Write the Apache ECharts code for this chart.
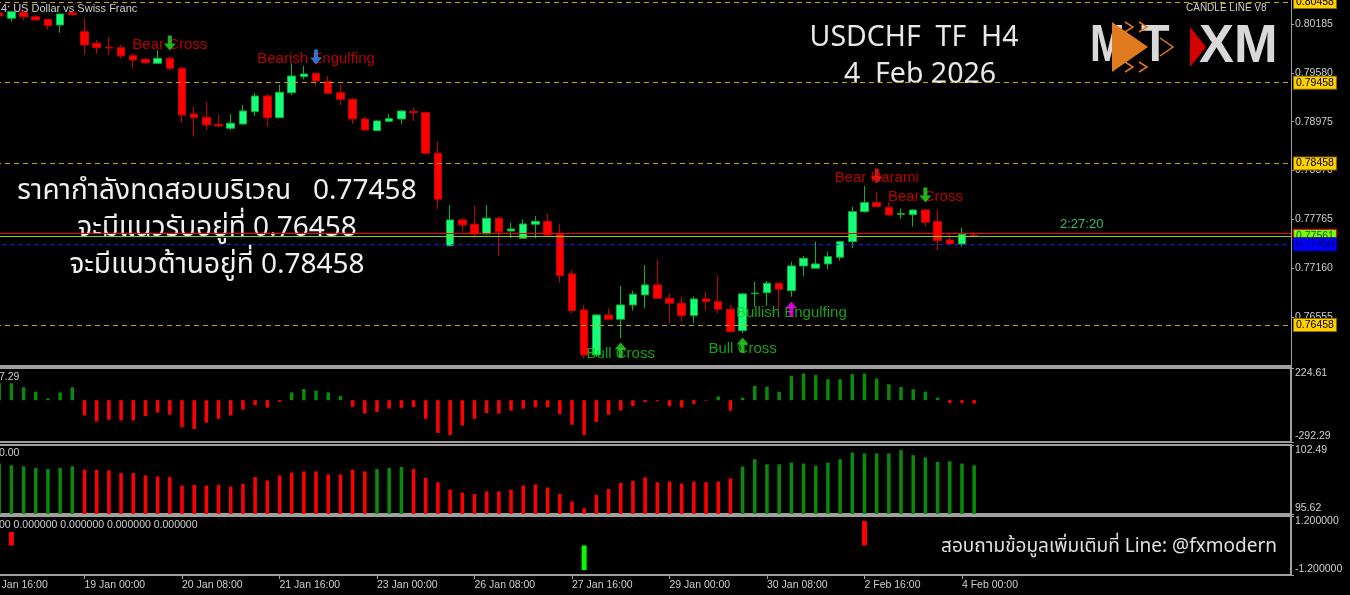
<!DOCTYPE html>
<html>
<head>
<meta charset="utf-8">
<title>USDCHF H4</title>
<script src="https://cdn.jsdelivr.net/npm/echarts@6/dist/echarts.min.js"></script>
<style>
  html, body { margin: 0; padding: 0; background: #000; }
  #box { width: 1350px; height: 595px; }
</style>
</head>
<body>
<div id="box"></div>
<script>
// H4 bars, first slot = Thu 15 Jan 2026 16:00, weekends skipped
const firstBarTime = Date.UTC(2026, 0, 15, 16);
const barCount = 108;
const tickLabels = ['15 Jan 16:00', '19 Jan 00:00', '20 Jan 08:00', '21 Jan 16:00', '23 Jan 00:00',
  '26 Jan 08:00', '27 Jan 16:00', '29 Jan 00:00', '30 Jan 08:00', '2 Feb 16:00', '4 Feb 00:00'];
const priceTicks = [0.80185, 0.79580, 0.78975, 0.78370, 0.77765, 0.77160, 0.76555];

// candles, bar 1 .. bar 81
const opens = [0.80321, 0.80256, 0.80330, 0.80275, 0.80243, 0.80173, 0.80325, 0.80090, 0.79946, 0.79897,
  0.79892, 0.79793, 0.79748, 0.79698, 0.79760, 0.79637, 0.79071, 0.79030, 0.78943, 0.78894,
  0.78947, 0.79099, 0.79294, 0.79025, 0.79334, 0.79533, 0.79575, 0.79471, 0.79334, 0.79253,
  0.79009, 0.78864, 0.78980, 0.79009, 0.79102, 0.79087, 0.78584, 0.77440, 0.77759, 0.77705,
  0.77585, 0.77780, 0.77622, 0.77532, 0.77705, 0.77742, 0.77585, 0.77090, 0.76644, 0.76087,
  0.76582, 0.76529, 0.76706, 0.76830, 0.76954, 0.76789, 0.76727, 0.76574, 0.76780, 0.76747,
  0.76653, 0.76388, 0.76845, 0.76858, 0.76975, 0.76883, 0.77189, 0.77161, 0.77214, 0.77297,
  0.77490, 0.77861, 0.77973, 0.77916, 0.77829, 0.77824, 0.77882, 0.77738, 0.77511, 0.77461,
  0.77568];
const closes = [0.80284, 0.80337, 0.80275, 0.80235, 0.80164, 0.80309, 0.80300, 0.79925, 0.79892, 0.79888,
  0.79789, 0.79739, 0.79706, 0.79760, 0.79637, 0.79058, 0.79025, 0.78935, 0.78922, 0.78956,
  0.79108, 0.79294, 0.79025, 0.79339, 0.79541, 0.79566, 0.79479, 0.79327, 0.79253, 0.79009,
  0.78873, 0.78984, 0.79013, 0.79108, 0.79089, 0.78584, 0.78015, 0.77759, 0.77697, 0.77585,
  0.77780, 0.77614, 0.77647, 0.77709, 0.77742, 0.77573, 0.77069, 0.76636, 0.76087, 0.76582,
  0.76529, 0.76706, 0.76839, 0.76954, 0.76789, 0.76727, 0.76574, 0.76780, 0.76747, 0.76653,
  0.76376, 0.76843, 0.76852, 0.76975, 0.76901, 0.77189, 0.77284, 0.77214, 0.77304, 0.77490,
  0.77861, 0.77973, 0.77923, 0.77820, 0.77837, 0.77882, 0.77730, 0.77502, 0.77461, 0.77582,
  0.77561];
const lows = [0.80272, 0.80213, 0.80235, 0.80222, 0.80119, 0.80077, 0.80288, 0.79801, 0.79814, 0.79801,
  0.79760, 0.79637, 0.79696, 0.79698, 0.79607, 0.78963, 0.78790, 0.78873, 0.78916, 0.78873,
  0.78935, 0.79046, 0.78914, 0.79018, 0.79306, 0.79500, 0.79417, 0.79318, 0.79182, 0.78947,
  0.78860, 0.78860, 0.78978, 0.78947, 0.78984, 0.78563, 0.77891, 0.77428, 0.77614, 0.77532,
  0.77579, 0.77313, 0.77532, 0.77530, 0.77532, 0.77567, 0.76982, 0.76603, 0.76046, 0.76063,
  0.76527, 0.76294, 0.76636, 0.76665, 0.76787, 0.76480, 0.76500, 0.76480, 0.76636, 0.76600,
  0.76372, 0.76356, 0.76685, 0.76694, 0.76644, 0.76809, 0.77065, 0.77158, 0.77148, 0.77255,
  0.77408, 0.77849, 0.77919, 0.77816, 0.77767, 0.77676, 0.77676, 0.77387, 0.77459, 0.77428,
  0.77540];
const highs = [0.80334, 0.80346, 0.80358, 0.80296, 0.80243, 0.80317, 0.80337, 0.80256, 0.79987, 0.80020,
  0.79925, 0.79822, 0.79764, 0.79863, 0.79780, 0.79656, 0.79161, 0.79223, 0.79058, 0.79071,
  0.79182, 0.79327, 0.79318, 0.79430, 0.79698, 0.79665, 0.79582, 0.79541, 0.79430, 0.79269,
  0.79034, 0.78997, 0.79071, 0.79120, 0.79154, 0.79099, 0.78728, 0.77944, 0.77780, 0.77932,
  0.77944, 0.77801, 0.77725, 0.77767, 0.77808, 0.77841, 0.77709, 0.77140, 0.76706, 0.76595,
  0.76665, 0.76941, 0.76883, 0.77201, 0.77272, 0.76843, 0.76809, 0.76809, 0.76871, 0.77065,
  0.76706, 0.76849, 0.76995, 0.77003, 0.76979, 0.77242, 0.77313, 0.77490, 0.77366, 0.77499,
  0.77923, 0.78179, 0.78109, 0.77973, 0.77903, 0.77888, 0.77891, 0.77882, 0.77594, 0.77663,
  0.77610];

// horizontal levels
const levelPrices = [0.80458, 0.79458, 0.78458, 0.76458];
const testPrice = 0.77458;
const bidPrice = 0.77561;
const askPrice = 0.77590;

// pattern signals (bar slot, arrow price)
const signalNames = ['Bear Cross', 'Bearish Engulfing', 'Bull Cross', 'Bull Cross', 'Bullish Engulfing', 'Bear Harami', 'Bear Cross'];
const signalBars = [15, 27, 52, 62, 66, 73, 77];
const signalPrices = [0.79950, 0.79776, 0.76149, 0.76211, 0.76657, 0.78303, 0.78068];

// panel 2 histogram, bar 1 .. 81
const histA = [118, 118, 90, 59, 12, 54, 90, -106, -149, -137,
  -142, -142, -111, -87, -101, -189, -201, -158, -130, -106,
  -66, -35, -52, -12, 54, 78, 66, 54, 28, -47,
  -94, -83, -59, -54, -47, -130, -229, -243, -177, -130,
  -90, -94, -73, -59, -50, -50, -97, -172, -243, -153,
  -101, -73, -42, -14, -7, -42, -50, -26, -4, 26,
  -73, 17, 99, 94, 59, 170, 186, 175, 146, 146,
  182, 186, 151, 111, 92, 76, 59, 17, -19, -19,
  -24];
const histARange = [224.61, -292.29];

// panel 3 histogram, bar 1 .. 81
const histB = [100.64, 100.47, 100.37, 100.20, 100.09, 100.20, 100.37, 100.03, 100.03, 99.96,
  99.69, 99.69, 99.46, 99.36, 99.29, 98.45, 98.52, 98.45, 98.52, 98.35,
  98.62, 99.29, 98.95, 99.46, 99.73, 99.86, 99.86, 99.56, 99.56, 100.03,
  99.86, 100.09, 100.20, 100.30, 100.09, 99.22, 98.78, 98.04, 97.74, 97.61,
  97.87, 97.87, 98.04, 98.45, 98.55, 98.25, 97.61, 96.86, 96.20, 97.51,
  98.11, 98.72, 98.92, 99.26, 98.78, 98.85, 98.65, 98.85, 98.78, 98.85,
  99.16, 100.34, 101.07, 100.57, 100.57, 100.74, 100.64, 100.40, 100.74, 101.07,
  101.75, 101.65, 101.65, 101.65, 101.98, 101.48, 101.25, 100.80, 100.87, 100.64,
  100.47];
const histBDir = [1, 1, 1, 1, 1, 1, 1, -1, -1, -1, -1, -1, -1, -1, -1, -1, -1, -1, -1, -1,
  -1, -1, -1, -1, -1, -1, -1, -1, -1, -1, -1, 1, 1, 1, -1, -1, -1, -1, -1, -1,
  -1, -1, -1, -1, -1, -1, -1, -1, -1, -1, -1, -1, -1, -1, -1, -1, -1, -1, -1, -1,
  -1, 1, 1, 1, 1, 1, 1, 1, 1, 1, 1, 1, 1, 1, 1, 1, 1, 1, 1, 1, 1];
const histBRange = [102.49, 95.62];

// panel 4 pulses
const pulseBars = [2, 49, 72];
const pulseValues = [0.55, -1, 1];
const pulseRange = [1.2, -1.2];

// ---------- build ----------
const months = ['Jan', 'Feb', 'Mar', 'Apr', 'May', 'Jun', 'Jul', 'Aug', 'Sep', 'Oct', 'Nov', 'Dec'];
const pad = n => (n < 10 ? '0' : '') + n;
const cats = [];
for (let t = firstBarTime; cats.length < barCount; t += 4 * 3600e3) {
  const d = new Date(t);
  const wd = d.getUTCDay();
  if (wd === 0 || wd === 6) continue;
  cats.push(d.getUTCDate() + ' ' + months[d.getUTCMonth()] + ' ' + pad(d.getUTCHours()) + ':' + pad(d.getUTCMinutes()));
}
const showTick = (i, v) => tickLabels.indexOf(v) >= 0;

const candleData = ['-'].concat(opens.map((o, i) => [o, closes[i], lows[i], highs[i]]));
const histAData = ['-'].concat(histA);
const histBData = ['-'].concat(histB.map((v, i) => ({ value: v, itemStyle: { color: histBDir[i] > 0 ? '#0a8a0a' : '#ff0000' } })));
const pulseData = cats.map(() => '-');
pulseBars.forEach((b, k) => { pulseData[b] = pulseValues[k]; });

const arrowDown = 'path://M4,0 H8 V8 H12 L6,15 L0,8 H4 Z';
const arrowUp = 'path://M6,0 L12,7 H8 V15 H4 V7 H0 Z';
const arrowColor = {
  'Bear Cross': '#22e022', 'Bearish Engulfing': '#2f8fff', 'Bear Harami': '#ff1a1a',
  'Bull Cross': '#22e022', 'Bullish Engulfing': '#ff00ff'
};
const isBull = n => n.indexOf('Bull') === 0;

const axisFont = 'Liberation Sans, Arial, sans-serif';
const axisGray = '#a0a0a0';
const labelGray = '#cfcfcf';

const tag = (bg, fg, border) => ({
  show: true, position: 'end', distance: 3,
  formatter: p => Number(p.value).toFixed(5),
  backgroundColor: bg, color: fg, borderColor: border, borderWidth: 1,
  padding: [1, 2, 0, 2], fontSize: 10.5, fontFamily: axisFont
});

const gridL = -13, gridR = 59;
const grids = [
  { left: gridL, right: gridR, top: 0, height: 366 },
  { left: gridL, right: gridR, top: 368, height: 74, show: true, borderColor: axisGray, borderWidth: 2 },
  { left: gridL, right: gridR, top: 445, height: 69, show: true, borderColor: axisGray, borderWidth: 2 },
  { left: gridL, right: gridR, top: 516, height: 59, show: true, borderColor: axisGray, borderWidth: 2 }
].map(g => Object.assign(g, { containLabel: false, outerBoundsMode: 'none' }));

const xAxes = grids.map((g, k) => ({
  type: 'category', gridIndex: k, data: cats, boundaryGap: false, position: 'bottom',
  axisLine: { show: k === 0, onZero: false, lineStyle: { color: axisGray, width: 2 } },
  axisTick: { show: k === 3, interval: showTick, length: 4, lineStyle: { color: axisGray } },
  axisLabel: {
    show: k === 3, interval: showTick, align: 'left', margin: 5,
    color: labelGray, fontSize: 10.5, fontFamily: axisFont
  },
  splitLine: { show: false }
}));

const sideAxis = (k, range, digits) => ({
  type: 'value', gridIndex: k, position: 'right', min: range[1], max: range[0],
  axisLine: { show: false },
  axisTick: { show: true, customValues: range, length: 3, lineStyle: { color: axisGray } },
  axisLabel: {
    customValues: range, formatter: v => v.toFixed(digits), margin: 4,
    verticalAlignMaxLabel: 'bottom', verticalAlignMinLabel: 'top',
    color: labelGray, fontSize: 10.5, fontFamily: axisFont
  },
  splitLine: { show: false }
});

const yAxes = [
  {
    type: 'value', gridIndex: 0, position: 'right', min: 0.75950, max: 0.80482,
    axisLine: { show: true, lineStyle: { color: axisGray } },
    axisTick: { show: true, customValues: priceTicks, length: 3, lineStyle: { color: axisGray } },
    axisLabel: {
      customValues: priceTicks, formatter: v => v.toFixed(5), margin: 4,
      color: labelGray, fontSize: 10.5, fontFamily: axisFont
    },
    splitLine: { show: false }
  },
  sideAxis(1, histARange, 2),
  sideAxis(2, histBRange, 2),
  sideAxis(3, pulseRange, 6)
];

const levelLines = levelPrices.map(v => ({
  yAxis: v, lineStyle: { color: '#c9a400', type: [5, 4], width: 1 }, label: tag('#ffd000', '#000', '#8a6d00')
}));
levelLines.push({ yAxis: askPrice, lineStyle: { color: '#ff0000', type: 'solid', width: 1 }, label: { show: false } });
levelLines.push({ yAxis: bidPrice, lineStyle: { color: '#86d000', type: 'solid', width: 1 }, label: tag('#7cfc00', '#1c5000', '#ff0000') });
levelLines.push({ yAxis: testPrice, lineStyle: { color: '#1a1aff', type: [4, 4], width: 1 }, label: tag('#0000ff', '#00004a', '#0000b0') });

const signalText = signalNames.map((n, k) => ({
  name: n, value: [signalBars[k], signalPrices[k]],
  label: { color: isBull(n) ? '#1ec81e' : '#e80000', offset: [0, isBull(n) ? 4 : 2] }
}));
const signalArrows = signalNames.map((n, k) => ({
  name: n, value: [signalBars[k], signalPrices[k]],
  symbol: isBull(n) ? arrowUp : arrowDown,
  itemStyle: { color: arrowColor[n] }
}));

const txt = (text, x, y, font, fill, align) => ({
  type: 'text', x: x, y: y, silent: true,
  style: { text: text, font: font, fill: fill, align: align || 'left', verticalAlign: 'middle' }
});
const thaiFont = 'Noto Sans Thai, Noto Sans Thai Looped, Loma, Garuda, Sarabun, Noto Sans, sans-serif';
const logoOrange = '#e07a1f';

const option = {
  backgroundColor: '#000',
  animation: false,
  grid: grids,
  xAxis: xAxes,
  yAxis: yAxes,
  series: [
    {
      type: 'candlestick', xAxisIndex: 0, yAxisIndex: 0, barWidth: 8, z: 2,
      data: candleData,
      itemStyle: {
        color: '#14ff7c', color0: '#ff0000',
        borderColor: '#0fb02c', borderColor0: '#c80000', borderWidth: 1
      },
      markLine: { symbol: ['none', 'none'], silent: true, animation: false, precision: 5, data: levelLines }
    },
    {
      type: 'scatter', xAxisIndex: 0, yAxisIndex: 0, symbolSize: 1, z: 5, silent: true,
      itemStyle: { color: 'rgba(0,0,0,0)' },
      label: { show: true, position: 'inside', formatter: p => p.name, fontSize: 15, fontFamily: axisFont },
      data: signalText
    },
    {
      type: 'scatter', xAxisIndex: 0, yAxisIndex: 0, symbolSize: [12, 15], z: 6, silent: true,
      data: signalArrows
    },
    {
      type: 'bar', xAxisIndex: 1, yAxisIndex: 1, barWidth: 3.5, silent: true,
      data: histAData,
      itemStyle: { color: p => (p.value >= 0 ? '#0a8a0a' : '#ff0000') }
    },
    {
      type: 'bar', xAxisIndex: 2, yAxisIndex: 2, barWidth: 3.5, silent: true,
      data: histBData
    },
    {
      type: 'bar', xAxisIndex: 3, yAxisIndex: 3, barWidth: 5, silent: true,
      data: pulseData,
      itemStyle: { color: p => (p.value >= 0 ? '#ff0000' : '#00ff00') }
    }
  ],
  graphic: [
    txt('H4: US Dollar vs Swiss Franc', -7, 9, '11px ' + axisFont, labelGray),
    txt('CANDLE LINE V8', 1186, 8, '10px ' + axisFont, labelGray),
    txt('USDCHF  TF  H4', 914, 38, '28.5px Noto Sans, sans-serif', '#e8e8e8', 'center'),
    txt('4  Feb 2026', 920, 75, '28.5px Noto Sans, sans-serif', '#e8e8e8', 'center'),
    txt('ราคากำลังทดสอบบริเวณ   0.77458', 217, 193, '28px ' + thaiFont, '#f0f0f0', 'center'),
    txt('จะมีแนวรับอยู่ที่ 0.76458', 217, 230, '28px ' + thaiFont, '#f0f0f0', 'center'),
    txt('จะมีแนวต้านอยู่ที่ 0.78458', 217, 267, '28px ' + thaiFont, '#f0f0f0', 'center'),
    txt('2:27:20', 1060, 224, '13px ' + axisFont, '#2fbf6a'),
    txt('สอบถามข้อมูลเพิ่มเติมที่ Line: @fxmodern', 1277, 548, '19px ' + thaiFont, '#e0e0e0', 'right'),
    txt('7.29', -1, 377, '10.5px ' + axisFont, labelGray),
    txt('0.00', -1, 453, '10.5px ' + axisFont, labelGray),
    txt('00 0.000000 0.000000 0.000000 0.000000', -1, 525, '10.5px ' + axisFont, labelGray),
    // logo
    { type: 'text', x: 1090, y: 47, scaleX: 0.8, silent: true,
      style: { text: 'M', font: 'bold 52px Liberation Sans, sans-serif', fill: '#d8d8d8', verticalAlign: 'middle' } },
    { type: 'text', x: 1141, y: 47, scaleX: 0.9, silent: true,
      style: { text: 'T', font: 'bold 52px Liberation Sans, sans-serif', fill: '#d8d8d8', verticalAlign: 'middle' } },
    { type: 'polygon', silent: true, shape: { points: [[1112, 22], [1148, 47], [1112, 72]] }, style: { fill: logoOrange } },
    { type: 'polyline', silent: true, shape: { points: [[1125, 22], [1133, 27], [1125, 32]] }, style: { stroke: logoOrange, lineWidth: 1.5, fill: null } },
    { type: 'polyline', silent: true, shape: { points: [[1139, 22], [1147, 27], [1139, 32]] }, style: { stroke: logoOrange, lineWidth: 1.5, fill: null } },
    { type: 'polyline', silent: true, shape: { points: [[1160, 38], [1173, 47], [1160, 56]] }, style: { stroke: logoOrange, lineWidth: 1.5, fill: null } },
    { type: 'polyline', silent: true, shape: { points: [[1125, 62], [1133, 67], [1125, 72]] }, style: { stroke: logoOrange, lineWidth: 1.5, fill: null } },
    { type: 'polyline', silent: true, shape: { points: [[1139, 62], [1147, 67], [1139, 72]] }, style: { stroke: logoOrange, lineWidth: 1.5, fill: null } },
    { type: 'polygon', silent: true, shape: { points: [[1190, 27], [1206, 47], [1190, 67]] }, style: { fill: '#d40000' } },
    { type: 'text', x: 1199, y: 47, scaleX: 0.97, silent: true,
      style: { text: 'XM', font: 'bold 54px Liberation Sans, sans-serif', fill: '#d8d8d8', verticalAlign: 'middle' } }
  ]
};

const myChart = echarts.init(document.getElementById('box'));
myChart.setOption(option);
</script>
</body>
</html>
